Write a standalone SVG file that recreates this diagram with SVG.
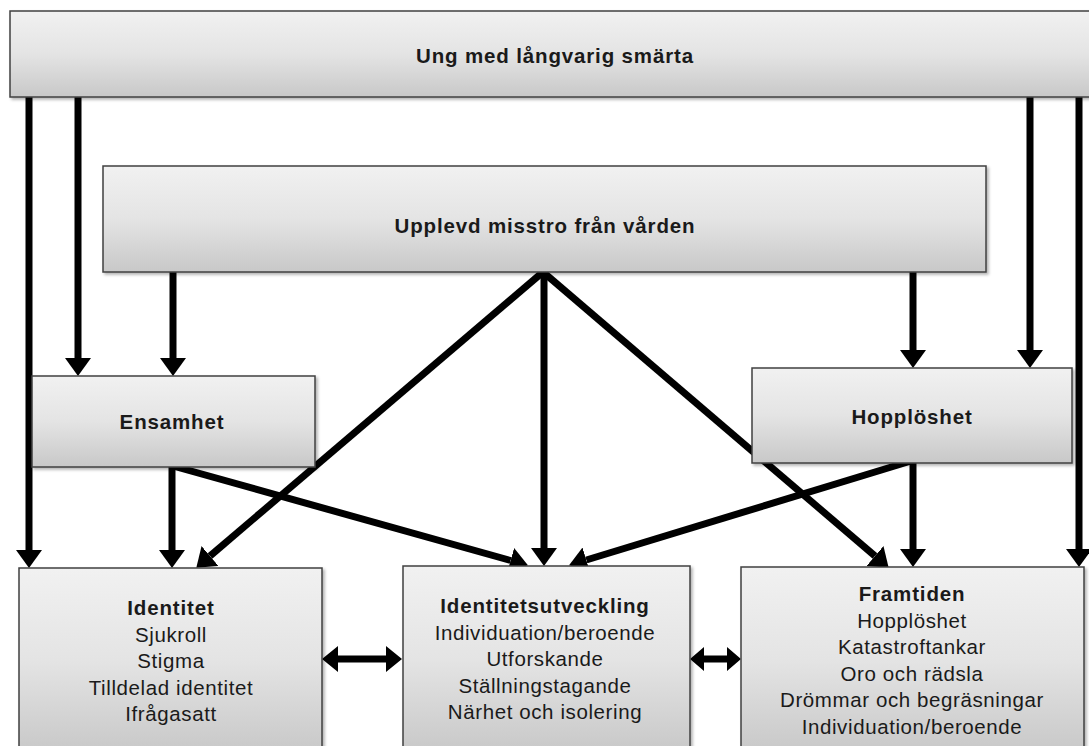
<svg xmlns="http://www.w3.org/2000/svg" width="1089" height="746" viewBox="0 0 1089 746">
<defs>
<linearGradient id="g" x1="0" y1="0" x2="0" y2="1">
<stop offset="0" stop-color="#f1f1f1"/>
<stop offset="0.5" stop-color="#e4e4e4"/>
<stop offset="1" stop-color="#c8c8c8"/>
</linearGradient>
<filter id="sh" x="-5%" y="-5%" width="110%" height="120%">
<feDropShadow dx="2" dy="2" stdDeviation="1.5" flood-color="#000" flood-opacity="0.3"/>
</filter>
<marker id="ah" markerUnits="userSpaceOnUse" markerWidth="20" markerHeight="28" refX="0" refY="13" orient="auto" viewBox="0 0 20 28">
<path d="M0,0 L18,13 L0,26 Z" fill="#000"/>
</marker>
<style>
.box{fill:url(#g);stroke:#404040;stroke-width:1.5;filter:url(#sh)}
.c line{stroke:#000;stroke-width:7;marker-end:url(#ah)}
.t{font-family:"Liberation Sans",Arial,sans-serif;font-size:20.5px;fill:#1a1a1a;text-anchor:middle;letter-spacing:0.6px}
.b{font-weight:bold;letter-spacing:0.85px}
</style>
</defs>
<g id="connectors" class="c">
<line x1="29" y1="97" x2="29" y2="550"/>
<line x1="78" y1="97" x2="78" y2="358"/>
<line x1="173" y1="272" x2="173" y2="358"/>
<line x1="913" y1="272" x2="913" y2="350"/>
<line x1="1030" y1="97" x2="1030" y2="350"/>
<line x1="1079" y1="97" x2="1079" y2="549"/>
<line x1="172" y1="467" x2="172" y2="550"/>
<line x1="913" y1="463" x2="913" y2="549"/>
<line x1="544" y1="272" x2="544" y2="548"/>
<line x1="543" y1="272" x2="210" y2="556"/>
<line x1="543" y1="272" x2="875" y2="556"/>
<line x1="173" y1="466" x2="510.6" y2="560.5"/>
<line x1="911" y1="461" x2="586.3" y2="560"/>
<path d="M322,659 L338,646 L338,655.5 L386,655.5 L386,646 L402,659 L386,672 L386,662.5 L338,662.5 L338,672 Z" fill="#000"/>
<path d="M690,659 L704,647 L704,655.5 L727,655.5 L727,647 L741,659 L727,671 L727,662.5 L704,662.5 L704,671 Z" fill="#000"/>
</g>
<g id="n-ung">
<rect class="box" x="10" y="11" width="1090" height="86"/>
<text class="t b" x="555" y="63">Ung med långvarig smärta</text>
</g>
<g id="n-misstro">
<rect class="box" x="103" y="166" width="883" height="106"/>
<text class="t b" x="545" y="233">Upplevd misstro från vården</text>
</g>
<g id="n-ensamhet">
<rect class="box" x="32" y="376" width="283" height="91"/>
<text class="t b" x="172" y="429">Ensamhet</text>
</g>
<g id="n-hopploshet">
<rect class="box" x="752" y="368" width="320" height="95"/>
<text class="t b" x="912" y="424">Hopplöshet</text>
</g>
<g id="n-identitet">
<rect class="box" x="19" y="568" width="303" height="185"/>
<text class="t b" x="171" y="615">Identitet</text>
<text class="t" x="171" y="641.5">Sjukroll</text>
<text class="t" x="171" y="668">Stigma</text>
<text class="t" x="171" y="694.5">Tilldelad identitet</text>
<text class="t" x="171" y="721">Ifrågasatt</text>
</g>
<g id="n-identitetsutveckling">
<rect class="box" x="403" y="566" width="287" height="187"/>
<text class="t b" x="545" y="613">Identitetsutveckling</text>
<text class="t" x="545" y="639.5">Individuation/beroende</text>
<text class="t" x="545" y="666">Utforskande</text>
<text class="t" x="545" y="692.5">Ställningstagande</text>
<text class="t" x="545" y="719">Närhet och isolering</text>
</g>
<g id="n-framtiden">
<rect class="box" x="741" y="567" width="343" height="186"/>
<text class="t b" x="912" y="601">Framtiden</text>
<text class="t" x="912" y="627.5">Hopplöshet</text>
<text class="t" x="912" y="654">Katastroftankar</text>
<text class="t" x="912" y="680.5">Oro och rädsla</text>
<text class="t" x="912" y="707">Drömmar och begräsningar</text>
<text class="t" x="912" y="733.5">Individuation/beroende</text>
</g>
</svg>
